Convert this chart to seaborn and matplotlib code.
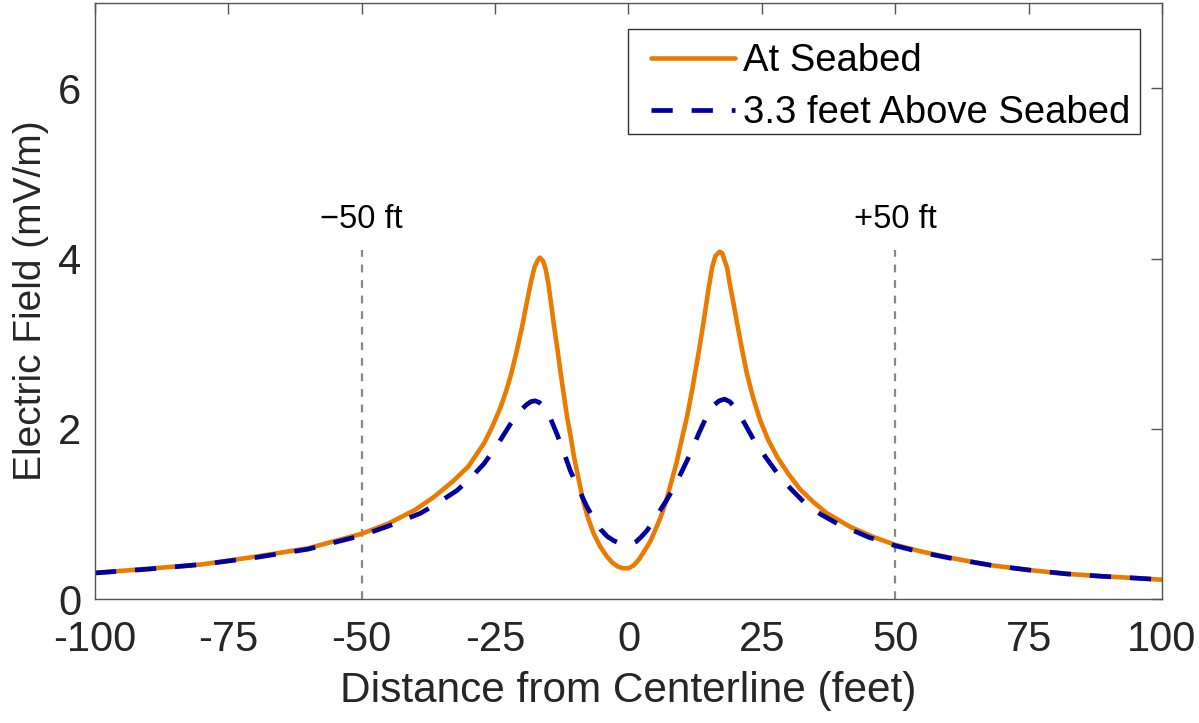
import pandas as pd
import matplotlib
matplotlib.use('Agg')
import matplotlib.pyplot as plt
from matplotlib.patches import Rectangle
import seaborn as sns

# values
seabed_x = [-100, -90, -80, -70, -60, -50, -45, -40, -36.5, -33, -30, -28.5, -27,
            -25.5, -24, -23, -22, -21, -20, -19, -18.3, -17.6, -17, -16.6, -16,
            -15.5, -15, -14.5, -14, -13.3, -12.7, -12, -11.5, -10.8, -10.2, -9.3,
            -8.4, -7.5, -6.5, -5.3, -4, -3, -2, -1, 0, 1, 2, 3, 4, 5, 6, 7, 8, 9,
            10, 11, 12, 13, 14, 15, 15.7, 16.3, 17.1, 17.6, 18, 18.5, 19, 19.7,
            20.4, 21.3, 22.2, 23.4, 24.7, 26.2, 27.9, 30, 32.2, 34.7, 37.2, 41.6,
            46, 50, 55, 61, 68, 75, 82, 89, 95, 100]
seabed_y = [0.31, 0.36, 0.41, 0.50, 0.60, 0.77, 0.89, 1.05, 1.20, 1.38, 1.56, 1.70,
            1.84, 2.03, 2.25, 2.43, 2.64, 2.90, 3.18, 3.50, 3.72, 3.90, 3.98, 4.01,
            3.97, 3.87, 3.70, 3.47, 3.23, 2.93, 2.65, 2.35, 2.14, 1.90, 1.67, 1.40,
            1.13, 0.94, 0.77, 0.62, 0.50, 0.43, 0.385, 0.365, 0.365, 0.40, 0.47,
            0.57, 0.67, 0.81, 0.96, 1.14, 1.37, 1.60, 1.88, 2.15, 2.48, 2.84, 3.22,
            3.64, 3.90, 4.03, 4.08, 4.06, 3.98, 3.89, 3.70, 3.47, 3.23, 2.93, 2.65,
            2.36, 2.10, 1.87, 1.67, 1.47, 1.29, 1.14, 1.01, 0.85, 0.73, 0.64, 0.56,
            0.48, 0.40, 0.345, 0.30, 0.27, 0.25, 0.23]

above_x = [-100, -90, -80, -70, -60, -50, -45, -39, -36, -32.1, -29.5, -27.1, -24.5,
           -22.1, -20.5, -19.2, -18.3, -17.5, -16.7, -15.9, -14.6, -13.4, -12.2,
           -10.9, -9.3, -7.8, -6.5, -5.2, -4, -2.8, -1.5, -0.5, 0.5, 1.5, 2.5, 3.5,
           4.8, 6, 7.2, 8.5, 10, 11.6, 13.2, 14.75, 16, 17, 18, 19, 20.4, 21.9,
           23.5, 25.7, 27.9, 30.4, 32.9, 36, 39.1, 45, 50, 55, 61, 68, 75, 82, 89,
           95, 100]
above_y = [0.31, 0.355, 0.41, 0.49, 0.59, 0.75, 0.86, 1.01, 1.12, 1.28, 1.43, 1.59,
           1.82, 2.06, 2.20, 2.28, 2.32, 2.33, 2.31, 2.26, 2.12, 1.94, 1.74, 1.51,
           1.29, 1.09, 0.94, 0.82, 0.74, 0.69, 0.655, 0.645, 0.65, 0.68, 0.74, 0.81,
           0.93, 1.05, 1.17, 1.31, 1.50, 1.71, 1.95, 2.16, 2.28, 2.33, 2.35, 2.32,
           2.22, 2.05, 1.87, 1.67, 1.48, 1.30, 1.14, 1.00, 0.89, 0.73, 0.63, 0.55,
           0.475, 0.40, 0.345, 0.30, 0.27, 0.25, 0.23]

series_names = ['At Seabed', '3.3 feet Above Seabed']
marker_x = [-50, 50]
marker_labels = ['\u221250 ft', '+50 ft']
x_ticks = [-100, -75, -50, -25, 0, 25, 50, 75, 100]
x_tick_labels = ['-100', '-75', '-50', '-25', '0', '25', '50', '75', '100']
y_ticks = [0, 2, 4, 6]

seabed_df = pd.DataFrame({'x': seabed_x, 'y': seabed_y})
above_df = pd.DataFrame({'x': above_x, 'y': above_y})

sns.set_style('white')
plt.rcParams['font.family'] = ['Liberation Sans', 'DejaVu Sans']
text_col = '#262626'
axis_col = '#555555'

fig = plt.figure(figsize=(11.99, 7.23), dpi=100)
ax = fig.add_axes([0.0792, 0.171, 0.8899, 0.825])

# dashed markers at +/-50 ft
ax.vlines(marker_x, 0, 4.1, colors='#888888', linestyles=(0, (3.5, 3.5)), linewidth=1.6)
for mx, lab in zip(marker_x, marker_labels):
    ax.text(mx, 4.46, lab, ha='center', va='center', fontsize=23.5, color='black')

sns.lineplot(data=seabed_df, x='x', y='y', ax=ax, color='#EA7A00', linewidth=3.3,
             label=series_names[0])
sns.lineplot(data=above_df, x='x', y='y', ax=ax, color='#0000A0', linewidth=3.4,
             label=series_names[1])
ax.lines[-1].set_dashes((4.5, 4.0))
ax.lines[-1].set_dash_capstyle('butt')

ax.set_xlim(-100, 100)
ax.set_ylim(0, 7)
ax.set_xticks(x_ticks)
ax.set_xticklabels(x_tick_labels)
ax.set_yticks(y_ticks)
ax.tick_params(direction='in', length=8, width=1, colors=axis_col, labelcolor=text_col,
               labelsize=30, top=True, right=True)
ax.tick_params(axis='x', pad=15)
ax.tick_params(axis='y', pad=10)
for s in ax.spines.values():
    s.set_visible(True)
    s.set_color(axis_col)
    s.set_linewidth(1)

ax.set_xlabel('Distance from Centerline (feet)', fontsize=30.5, color=text_col, labelpad=8)
ax.set_ylabel('Electric Field (mV/m)', fontsize=28, color=text_col, labelpad=6)

# legend entries without frame, box drawn separately to match the padding
leg = ax.legend(loc='center left', bbox_to_anchor=(0.521, 0.859), borderaxespad=0,
                fontsize=27.5, frameon=False, handlelength=2.2,
                handletextpad=0.22, labelspacing=0.42, borderpad=0)
for t in leg.get_texts():
    t.set_color('black')
ax.add_patch(Rectangle((0.4995, 0.780), 0.4795, 0.176, transform=ax.transAxes,
                       facecolor='white', edgecolor='#333333', linewidth=1, zorder=4))
leg.set_zorder(5)

fig.savefig('out.png', dpi=100)
